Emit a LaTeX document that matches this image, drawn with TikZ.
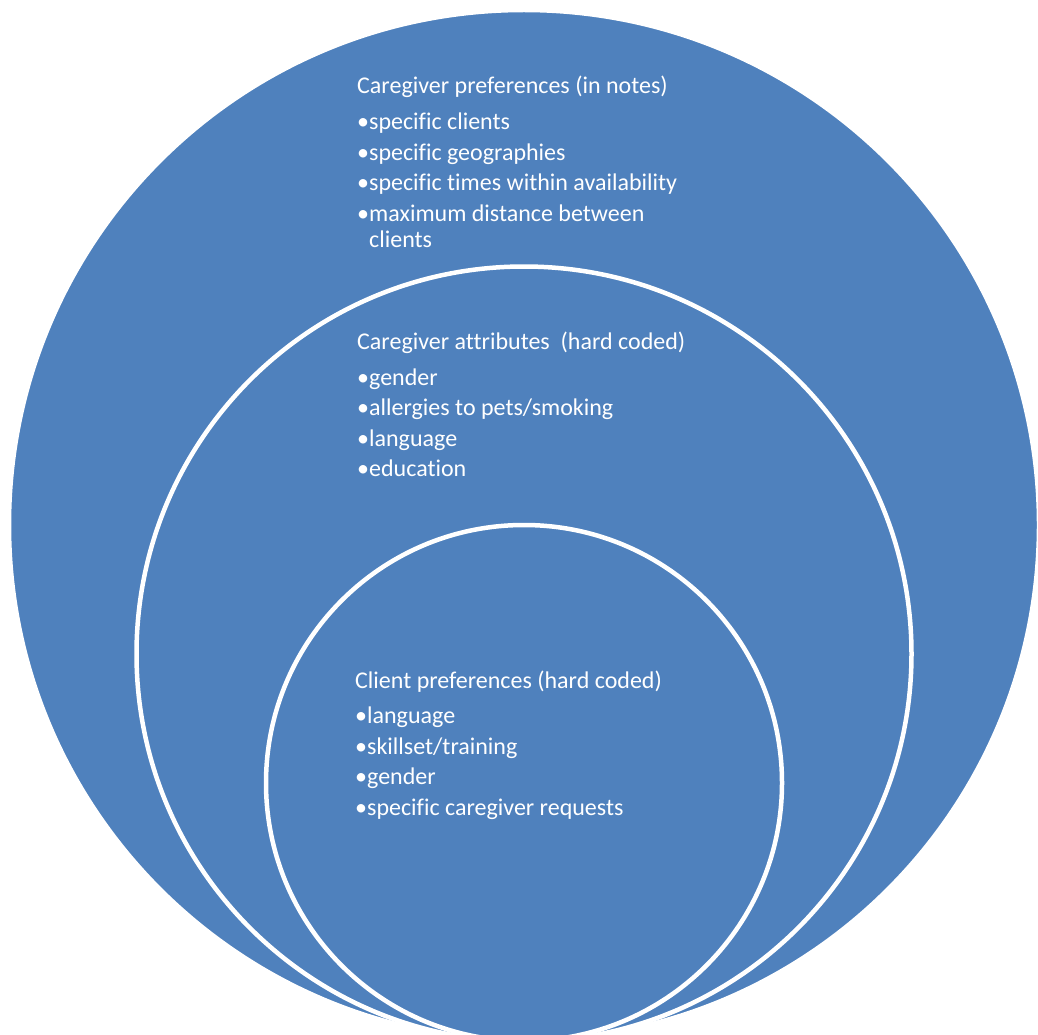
\documentclass[tikz,border=0pt]{standalone}
\usepackage{fontspec}
\setmainfont[Ligatures=NoCommon]{Carlito}
\definecolor{ringblue}{HTML}{4F81BD}

\begin{document}
\begin{tikzpicture}[x=1pt, y=-1pt,
  ring/.style={circle, fill=ringblue, draw=white, line width=4.5pt, inner sep=0pt},
  ringtext/.style={anchor=base west, inner sep=0pt, text=white, font=\fontsize{24}{28}\selectfont}]
\useasboundingbox (0,0) rectangle (1038,1035);
\clip (0,0) rectangle (1038,1035);
% nested rings, all touching at the bottom
\node[ring, minimum size=1030pt] (outer) at (524,525) {};
\node[ring, minimum size=775pt] (middle) at (524,654) {};
\node[ring, minimum size=516pt] (inner) at (524,783) {};
% outer ring
\node[ringtext] (cgpref) at (357,94) {Caregiver preferences (in notes)};
\node[ringtext] (cgpa) at (357,130) {•specific clients};
\node[ringtext] (cgpb) at (357,161) {•specific geographies};
\node[ringtext] (cgpc) at (357,191) {•specific times within availability};
\node[ringtext] (cgpd) at (357,221) {•maximum distance between};
\node[ringtext] (cgpe) at (357,247) {\phantom{•}clients};
% middle ring
\node[ringtext] (cgattr) at (357,349) {Caregiver attributes~ (hard coded)};
\node[ringtext] (cgaa) at (357,385) {•gender};
\node[ringtext] (cgab) at (357,415) {•allergies to pets/smoking};
\node[ringtext] (cgac) at (357,446) {•language};
\node[ringtext] (cgad) at (357,476) {•education};
% inner ring
\node[ringtext] (clpref) at (355,688) {Client preferences (hard coded)};
\node[ringtext] (clpa) at (355,723) {•language};
\node[ringtext] (clpb) at (355,754) {•skillset/training};
\node[ringtext] (clpc) at (355,784) {•gender};
\node[ringtext] (clpd) at (355,815) {•specific caregiver requests};
\end{tikzpicture}
\end{document}
